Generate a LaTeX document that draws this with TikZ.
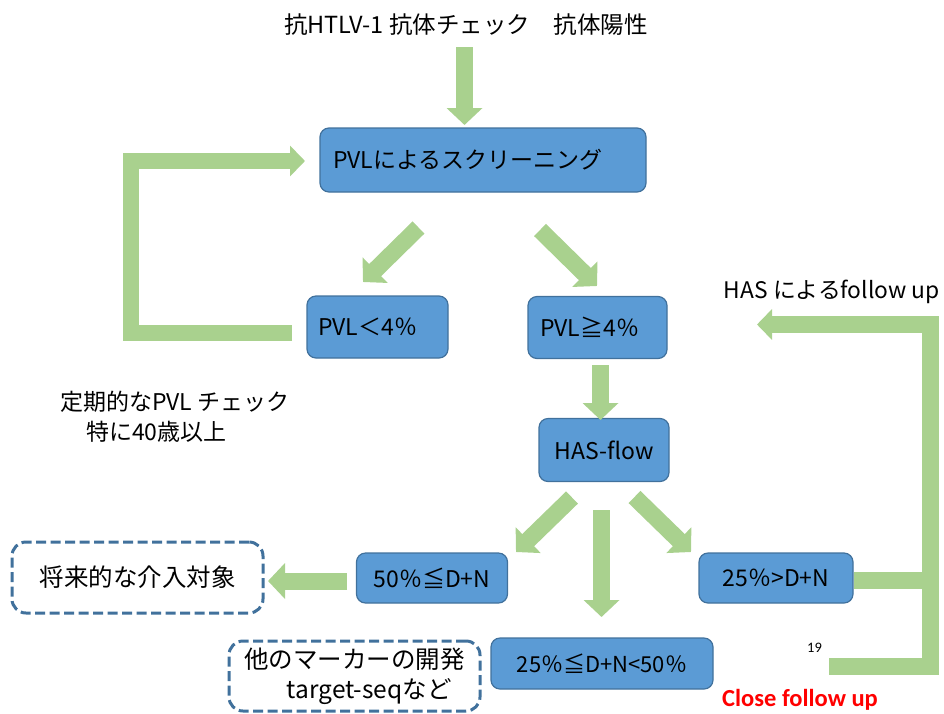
\documentclass[tikz,border=0pt]{standalone}
\usepackage{fontspec}
\setmainfont{Noto Sans CJK JP}
\newfontfamily\calfont{Carlito}
\usetikzlibrary{arrows.meta,calc}
\definecolor{boxfill}{HTML}{5B9BD5}
\definecolor{boxline}{HTML}{41719C}
\definecolor{arrowgreen}{HTML}{A9D18E}
\begin{document}
\begin{tikzpicture}[x=1pt,y=-1pt,
  bluebox/.style={draw=boxline, line width=1.2pt, fill=boxfill, rounded corners=9pt, inner sep=0pt, font=\fontsize{23}{27}\selectfont},
  dashbox/.style={draw=boxline, line width=3pt, dash pattern=on 10pt off 4.5pt, rounded corners=14pt, inner sep=0pt, font=\fontsize{24.5}{30}\selectfont},
  garrow/.style={draw=arrowgreen, line width=17pt, -{Triangle[length=17pt,width=35pt]}},
  gloop/.style={draw=arrowgreen, line width=16pt, line join=miter, -{Triangle[length=15pt,width=30pt]}},
  gband/.style={draw=arrowgreen, line width=17pt, line join=miter},
  plain/.style={inner sep=0pt, font=\fontsize{23}{27}\selectfont}]
\useasboundingbox (0,0) rectangle (944,713);

% nodes
\node[plain, font=\fontsize{23.5}{27}\selectfont] (title) at (466,25) {抗HTLV-1 抗体チェック　抗体陽性};
\node[bluebox, minimum height=64pt, text width=300pt, inner xsep=13pt, align=left] (screen) at (483,160) {PVLによるスクリーニング};
\node[bluebox, minimum height=62pt, text width=119pt, inner xsep=11pt, align=left] (low) at (377.5,327) {PVL＜4％};
\node[bluebox, minimum height=62pt, text width=115pt, inner xsep=12pt, align=left] (high) at (597.5,327.5) {PVL≧4％};
\node[bluebox, minimum width=130pt, minimum height=63pt] (has) at (604,450) {HAS-flow};
\node[bluebox, minimum width=151pt, minimum height=50pt] (fifty) at (432,578) {50％≦D+N};
\node[bluebox, minimum width=154pt, minimum height=50pt] (quarter) at (776,578) {25％>D+N};
\node[bluebox, minimum width=222pt, minimum height=51pt, font=\fontsize{22}{26}\selectfont] (mid) at (602,663.5) {25％≦D+N<50％};
\node[dashbox, minimum width=251pt, minimum height=71pt] (future) at (137.5,577.5) {将来的な介入対象};
\node[dashbox, minimum width=251pt, minimum height=70pt, align=center] (marker) at (354.5,676) {他のマーカーの開発\\\hspace{1.2em}target-seqなど};

\node[plain, anchor=west] (periodic) at (60,402) {定期的なPVL チェック};
\node[plain, anchor=west] (age) at (86,432) {特に40歳以上};
\node[plain, anchor=east, font=\fontsize{22.8}{26}\selectfont] (hasfu) at (940,292) {HAS によるfollow up};
\node[anchor=west, inner sep=0pt, font=\calfont\fontsize{14.5}{16}\selectfont] (pg) at (807,648) {19};
\node[anchor=west, inner sep=0pt, text=red, font=\calfont\bfseries\fontsize{24.5}{28}\selectfont] (close) at (722,700) {Close follow up};

% arrow end points
\coordinate (a1s) at (464.5,47);   \coordinate (a1e) at (464.5,125);
\coordinate (l1) at (292,333);     \coordinate (l2) at (131,333);
\coordinate (l3) at (131,161);     \coordinate (l4) at (305,161);
\coordinate (d1s) at (418.5,227.5); \coordinate (d1e) at (363,282);
\coordinate (d2s) at (540,230);    \coordinate (d2e) at (597,286);
\coordinate (a2s) at (600.5,365);  \coordinate (a2e) at (600.5,420);
\coordinate (h1s) at (572,497.5);  \coordinate (h1e) at (516,552);
\coordinate (h2s) at (601.5,510);  \coordinate (h2e) at (601.5,617);
\coordinate (h3s) at (634.5,497);  \coordinate (h3e) at (691,552);
\coordinate (f1s) at (347,581);    \coordinate (f1e) at (268,581);
\coordinate (r1) at (829,666.5);   \coordinate (r2) at (930.5,666.5);
\coordinate (r3) at (930.5,324.5); \coordinate (r4) at (757,324.5);
\coordinate (rb) at (930.5,580.5);

% green arrows
\draw[garrow] (a1s) -- (a1e);
\draw[gloop] (l1) -- (l2) -- (l3) -- (l4);
\draw[garrow] (d1s) -- (d1e);
\draw[garrow] (d2s) -- (d2e);
\draw[garrow] (a2s) -- (a2e);
\draw[garrow] (h1s) -- (h1e);
\draw[garrow] (h2s) -- (h2e);
\draw[garrow] (h3s) -- (h3e);
\draw[garrow] (f1s) -- (f1e);
\draw[gband] (quarter.east |- rb) -- (rb);
\draw[gband, -{Triangle[length=15pt,width=30pt]}] (r1) -- (r2) -- (r3) -- (r4);
\end{tikzpicture}
\end{document}
